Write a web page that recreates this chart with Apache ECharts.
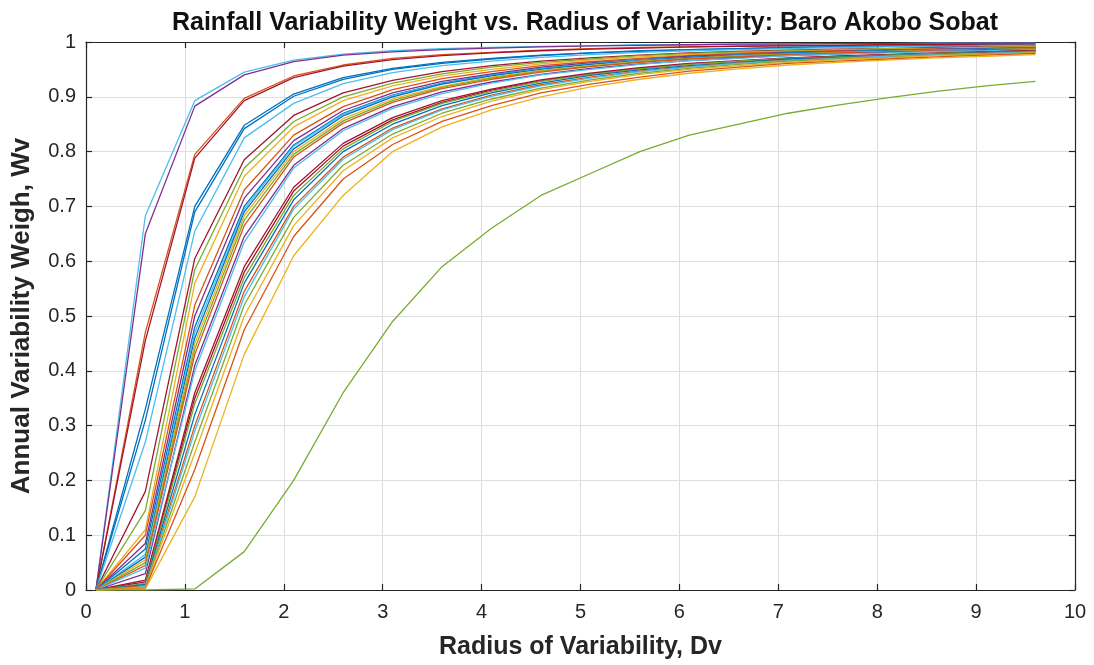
<!DOCTYPE html>
<html>
<head>
<meta charset="utf-8">
<title>Rainfall Variability Weight</title>
<script src="https://cdn.jsdelivr.net/npm/echarts@6/dist/echarts.min.js"></script>
<style>
html,body{margin:0;padding:0;background:#fff;}
#chart{width:1094px;height:665px;}
</style>
</head>
<body>
<div id="chart"></div>
<script>
// radius of variability Dv (x values of every curve)
var radius = [0.1,0.6,1.1,1.6,2.1,2.6,3.1,3.6,4.1,4.6,5.1,5.6,6.1,6.6,7.1,7.6,8.1,8.6,9.1,9.6];

// weight Wv for each station
var weights = [
  [0,.683,.893,.945,.967,.978,.984,.988,.990,.992,.993,.995,.995,.996,.997,.997,.997,.998,.998,.998],
  [0,.650,.883,.940,.964,.976,.982,.986,.989,.991,.993,.994,.995,.996,.996,.997,.997,.997,.998,.998],
  [0,.470,.795,.897,.938,.958,.970,.977,.981,.985,.988,.990,.991,.993,.994,.994,.995,.996,.996,.997],
  [0,.455,.788,.893,.935,.956,.968,.975,.980,.984,.987,.989,.991,.992,.993,.994,.995,.995,.996,.996],
  [0,.330,.700,.848,.905,.935,.952,.963,.970,.976,.980,.984,.986,.988,.990,.991,.992,.993,.994,.994],
  [0,.310,.690,.842,.901,.932,.950,.961,.969,.975,.980,.983,.986,.988,.990,.991,.992,.993,.994,.994],
  [0,.270,.655,.825,.888,.924,.944,.957,.965,.972,.977,.981,.984,.986,.988,.990,.991,.992,.993,.994],
  [0,.180,.605,.785,.866,.907,.930,.946,.957,.965,.971,.976,.980,.983,.985,.987,.988,.990,.991,.992],
  [0,.145,.585,.770,.855,.900,.925,.942,.954,.963,.969,.975,.979,.982,.984,.986,.988,.989,.990,.991],
  [0,.110,.560,.755,.845,.893,.920,.938,.950,.960,.967,.973,.977,.980,.983,.985,.987,.988,.990,.991],
  [0,.100,.520,.730,.830,.882,.913,.933,.946,.957,.964,.970,.975,.979,.982,.984,.986,.987,.989,.990],
  [0,.085,.500,.715,.820,.875,.907,.928,.942,.954,.962,.968,.974,.977,.981,.983,.985,.987,.988,.989],
  [0,.075,.480,.700,.812,.870,.903,.925,.940,.952,.960,.967,.972,.976,.980,.982,.984,.986,.987,.989],
  [0,.065,.470,.695,.810,.868,.902,.924,.939,.951,.960,.967,.972,.976,.979,.982,.984,.986,.987,.989],
  [0,.060,.460,.690,.805,.865,.900,.923,.938,.950,.959,.966,.972,.976,.979,.982,.984,.986,.987,.989],
  [0,.055,.450,.683,.800,.860,.896,.919,.936,.948,.957,.965,.970,.975,.978,.981,.983,.985,.986,.988],
  [0,.050,.440,.675,.795,.856,.893,.917,.934,.947,.956,.964,.970,.974,.978,.980,.982,.984,.986,.988],
  [0,.045,.430,.665,.790,.852,.890,.915,.932,.945,.955,.963,.969,.973,.977,.980,.982,.984,.986,.987],
  [0,.030,.410,.645,.775,.842,.882,.909,.927,.941,.952,.960,.966,.971,.975,.978,.981,.983,.985,.986],
  [0,.040,.400,.635,.770,.838,.879,.906,.925,.940,.950,.959,.966,.970,.975,.978,.980,.983,.984,.986],
  [0,.018,.360,.590,.735,.815,.862,.893,.914,.931,.943,.953,.961,.966,.971,.974,.977,.980,.982,.984],
  [0,.015,.350,.580,.728,.810,.858,.890,.912,.929,.942,.952,.960,.965,.970,.974,.977,.979,.982,.984],
  [0,.012,.340,.570,.720,.805,.855,.888,.910,.928,.941,.951,.959,.965,.970,.973,.976,.979,.981,.983],
  [0,.010,.320,.560,.712,.800,.850,.884,.907,.925,.939,.949,.957,.963,.969,.972,.975,.978,.981,.983],
  [0,.008,.300,.545,.700,.790,.843,.878,.903,.922,.936,.947,.955,.962,.967,.971,.974,.977,.980,.982],
  [0,.006,.290,.535,.695,.786,.840,.876,.901,.920,.934,.946,.954,.961,.966,.970,.974,.977,.979,.982],
  [0,.005,.270,.520,.680,.775,.832,.870,.896,.916,.931,.943,.952,.959,.965,.969,.972,.976,.978,.981],
  [0,.004,.250,.500,.665,.765,.825,.864,.892,.913,.928,.941,.950,.957,.963,.968,.971,.975,.977,.980],
  [0,.003,.220,.475,.645,.750,.813,.855,.884,.907,.923,.936,.947,.954,.961,.965,.969,.973,.976,.979],
  [0,.002,.170,.430,.610,.720,.800,.845,.876,.900,.918,.932,.943,.951,.958,.963,.967,.971,.974,.977],
  [0,0,.002,.070,.200,.360,.490,.590,.660,.720,.760,.800,.830,.850,.870,.885,.898,.910,.920,.928]
];
var lineColors = ['#4DBEEE','#7E2F8E','#D95319','#A2142F','#0072BD','#0072BD','#4DBEEE',
  '#A2142F','#77AC30','#EDB120','#D95319','#7E2F8E','#0072BD','#4DBEEE','#0072BD',
  '#EDB120','#77AC30','#D95319','#7E2F8E','#4DBEEE','#A2142F','#A2142F','#77AC30',
  '#0072BD','#D95319','#4DBEEE','#77AC30','#EDB120','#D95319','#EDB120','#77AC30'];

var titleText = 'Rainfall Variability Weight vs. Radius of Variability: Baro Akobo Sobat';
var xName = 'Radius of Variability, Dv';
var yName = 'Annual Variability Weigh, Wv';

var axisColor = '#262626';
var font = 'Liberation Sans, Arial, sans-serif';

var series = [];
weights.forEach(function(w, i){
  var pts = [];
  w.forEach(function(v, k){ pts.push([radius[k], v]); });
  series.push({
    type: 'line',
    data: pts,
    showSymbol: false,
    symbol: 'none',
    animation: false,
    silent: true,
    lineStyle: { color: lineColors[i], width: 1.3 }
  });
});

// top / right axes only close the box (matlab "box on")
var boxAxis = function(pos, max, step){
  return {
    type: 'value', position: pos, min: 0, max: max, interval: step,
    axisLine: { show: true, onZero: false, lineStyle: { color: axisColor, width: 1.2 } },
    axisTick: { show: true, inside: true, length: 6, lineStyle: { color: axisColor, width: 1.2 } },
    axisLabel: { show: false },
    splitLine: { show: false }
  };
};

var chart = echarts.init(document.getElementById('chart'));
chart.setOption({
  backgroundColor: '#fff',
  animation: false,
  title: {
    text: titleText,
    left: 580, top: 6, textAlign: 'center',
    textStyle: { fontFamily: font, fontSize: 25, fontWeight: 'bold', color: '#111' }
  },
  grid: { left: 86, right: 19, top: 42, bottom: 75, containLabel: false },
  xAxis: [{
    type: 'value', min: 0, max: 10, interval: 1,
    name: xName, nameLocation: 'middle', nameGap: 45,
    nameTextStyle: { fontFamily: font, fontSize: 25, fontWeight: 'bold', color: axisColor },
    axisLine: { show: true, onZero: false, lineStyle: { color: axisColor, width: 1.2 } },
    axisTick: { show: true, inside: true, length: 6, lineStyle: { color: axisColor, width: 1.2 } },
    axisLabel: { fontFamily: font, fontSize: 20, color: axisColor, margin: 12 },
    splitLine: { show: true, lineStyle: { color: '#dedede', width: 1 } }
  }, boxAxis('top', 10, 1)],
  yAxis: [{
    type: 'value', min: 0, max: 1, interval: 0.1,
    name: yName, nameLocation: 'middle', nameGap: 51,
    nameTextStyle: { fontFamily: font, fontSize: 26, fontWeight: 'bold', color: axisColor },
    axisLine: { show: true, onZero: false, lineStyle: { color: axisColor, width: 1.2 } },
    axisTick: { show: true, inside: true, length: 6, lineStyle: { color: axisColor, width: 1.2 } },
    axisLabel: { fontFamily: font, fontSize: 20, color: axisColor, margin: 10,
      formatter: function(v){ return String(Math.round(v * 10) / 10); } },
    splitLine: { show: true, lineStyle: { color: '#dedede', width: 1 } }
  }, boxAxis('right', 1, 0.1)],
  series: series
});
</script>
</body>
</html>
